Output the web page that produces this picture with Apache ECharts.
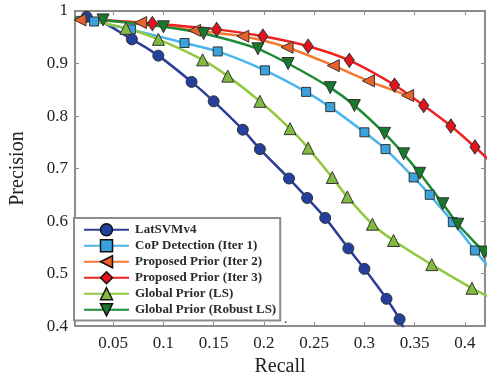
<!DOCTYPE html>
<html>
<head>
<meta charset="utf-8">
<script src="https://cdn.jsdelivr.net/npm/echarts@6/dist/echarts.min.js"></script>
<style>
  html, body { margin: 0; padding: 0; background: #fff; }
  #chart { width: 487px; height: 382px; }
</style>
</head>
<body>
<div id="chart"></div>
<script>
// tick labels
const xTicks = [0.05, 0.1, 0.15, 0.2, 0.25, 0.3, 0.35, 0.4];

// marker points [recall, precision]
const latSvm = [[0.0236, 0.989], [0.0686, 0.946], [0.0949, 0.915], [0.128, 0.865], [0.150, 0.828], [0.179, 0.774], [0.196, 0.737], [0.225, 0.681], [0.243, 0.644], [0.261, 0.606], [0.284, 0.548], [0.300, 0.509], [0.322, 0.452], [0.335, 0.413]];
const copIter1 = [[0.031, 0.980], [0.0676, 0.965], [0.121, 0.939], [0.154, 0.923], [0.201, 0.887], [0.242, 0.846], [0.266, 0.817], [0.300, 0.769], [0.321, 0.737], [0.349, 0.683], [0.365, 0.650], [0.388, 0.598], [0.410, 0.544]];
const propIter2 = [[0.017, 0.983], [0.0773, 0.978], [0.131, 0.963], [0.179, 0.952], [0.223, 0.931], [0.269, 0.896], [0.304, 0.867], [0.343, 0.839]];
const propIter3 = [[0.089, 0.976], [0.153, 0.965], [0.199, 0.952], [0.244, 0.933], [0.285, 0.906], [0.330, 0.859], [0.359, 0.820], [0.386, 0.781], [0.410, 0.741]];
const globalLS = [[0.0627, 0.967], [0.095, 0.946], [0.139, 0.907], [0.164, 0.876], [0.196, 0.828], [0.226, 0.776], [0.244, 0.739], [0.268, 0.683], [0.283, 0.646], [0.308, 0.594], [0.329, 0.563], [0.367, 0.517], [0.407, 0.472]];
const globalRobust = [[0.040, 0.983], [0.100, 0.970], [0.140, 0.957], [0.194, 0.928], [0.224, 0.900], [0.266, 0.854], [0.290, 0.820], [0.320, 0.767], [0.339, 0.728], [0.355, 0.691], [0.378, 0.633], [0.393, 0.594], [0.419, 0.541]];

// line ends without markers (start at left edge, run out of the plot)
const latSvmEnds = [[0.012, 0.988], [0.340, 0.39]];
const copIter1Ends = [[0.012, 0.987], [0.425, 0.51]];
const propIter2Ends = [[0.012, 0.985], null];
const propIter3Ends = [[0.012, 0.987], [0.425, 0.714]];
const globalLSEnds = [[0.012, 0.987], [0.425, 0.455]];
const globalRobustEnds = [[0.012, 0.987], [0.425, 0.527]];

const font = '"Liberation Serif", "DejaVu Serif", serif';
const axisGray = '#8c8c8c';

function buildData(points, ends) {
  const out = [];
  if (ends[0]) out.push({ value: ends[0], symbol: 'none' });
  points.forEach(p => out.push(p));
  if (ends[1]) out.push({ value: ends[1], symbol: 'none' });
  return out;
}

function makeSeries(name, points, ends, lineColor, fill, symbol, size, rotate) {
  return {
    name,
    type: 'line',
    data: buildData(points, ends),
    smooth: 0.25,
    symbol,
    symbolSize: size,
    symbolRotate: rotate || 0,
    showAllSymbol: true,
    lineStyle: { color: lineColor, width: 2.5 },
    itemStyle: { color: fill, borderColor: '#333', borderWidth: 1 },
    emphasis: { disabled: true },
    animation: false,
  };
}

const chart = echarts.init(document.getElementById('chart'), null, { renderer: 'canvas' });

const axisLine = { show: true, lineStyle: { color: axisGray, width: 2 } };
const axisTick = { show: true, inside: true, length: 4, lineStyle: { color: axisGray, width: 1 } };

chart.setOption({
  backgroundColor: '#fff',
  animation: false,
  grid: { left: 68, right: 2, top: 11, bottom: 47 },
  legend: {
    orient: 'vertical',
    left: 74,
    top: 218,
    padding: [5, 4, 4, 9],
    itemWidth: 45,
    itemHeight: 15,
    itemGap: 2.5,
    backgroundColor: '#fff',
    borderColor: '#8c8c8c',
    borderWidth: 2,
    borderRadius: 0,
    itemStyle: { borderColor: '#111', borderWidth: 1.5 },
    textStyle: { fontFamily: font, fontSize: 13, fontWeight: 'bold', color: '#2a2a2a', padding: [0, 0, 0, 1] },
    data: ['LatSVMv4', 'CoP Detection (Iter 1)', 'Proposed Prior (Iter 2)', 'Proposed Prior (Iter 3)', 'Global Prior (LS)', 'Global Prior (Robust LS)'],
  },
  graphic: [{
    type: 'text', left: 284, top: 312,
    style: { text: '.', font: '14px ' + font, fill: '#333' },
  }],
  xAxis: [{
    type: 'value',
    min: 0.012,
    max: 0.42,
    name: 'Recall',
    nameLocation: 'middle',
    nameGap: 28,
    nameTextStyle: { fontFamily: font, fontSize: 20, color: '#222' },
    axisLine,
    axisTick: { ...axisTick, customValues: xTicks },
    axisLabel: {
      customValues: xTicks,
      margin: 9,
      fontFamily: font, fontSize: 17, color: '#222',
      formatter: v => String(v),
    },
    splitLine: { show: false },
  }, {
    type: 'value',
    position: 'top',
    min: 0.012,
    max: 0.42,
    axisLine,
    axisTick: { ...axisTick, customValues: xTicks },
    axisLabel: { show: false },
    splitLine: { show: false },
  }],
  yAxis: [{
    type: 'value',
    min: 0.4,
    max: 1,
    interval: 0.1,
    name: 'Precision',
    nameLocation: 'middle',
    nameGap: 47,
    nameTextStyle: { fontFamily: font, fontSize: 20, color: '#222' },
    axisLine,
    axisTick,
    axisLabel: {
      margin: 7,
      fontFamily: font, fontSize: 17, color: '#222',
      formatter: v => (Math.abs(v - 1) < 1e-9 ? '1' : v.toFixed(1)),
    },
    splitLine: { show: false },
  }, {
    type: 'value',
    position: 'right',
    min: 0.4,
    max: 1,
    interval: 0.1,
    axisLine,
    axisTick,
    axisLabel: { show: false },
    splitLine: { show: false },
  }],
  series: [
    makeSeries('LatSVMv4', latSvm, latSvmEnds, '#2b3f99', '#22409c', 'circle', 11),
    makeSeries('CoP Detection (Iter 1)', copIter1, copIter1Ends, '#49b5ea', '#3aa3dd', 'rect', 9),
    makeSeries('Proposed Prior (Iter 2)', propIter2, propIter2Ends, '#f47a30', '#e8622a', 'triangle', 12, 90),
    makeSeries('Proposed Prior (Iter 3)', propIter3, propIter3Ends, '#f0201e', '#e8121c', 'diamond', [10, 14]),
    makeSeries('Global Prior (LS)', globalLS, globalLSEnds, '#92c83e', '#80bb40', 'triangle', 12),
    makeSeries('Global Prior (Robust LS)', globalRobust, globalRobustEnds, '#1d8a34', '#18782c', 'triangle', 12, 180),
  ],
});
</script>
</body>
</html>
